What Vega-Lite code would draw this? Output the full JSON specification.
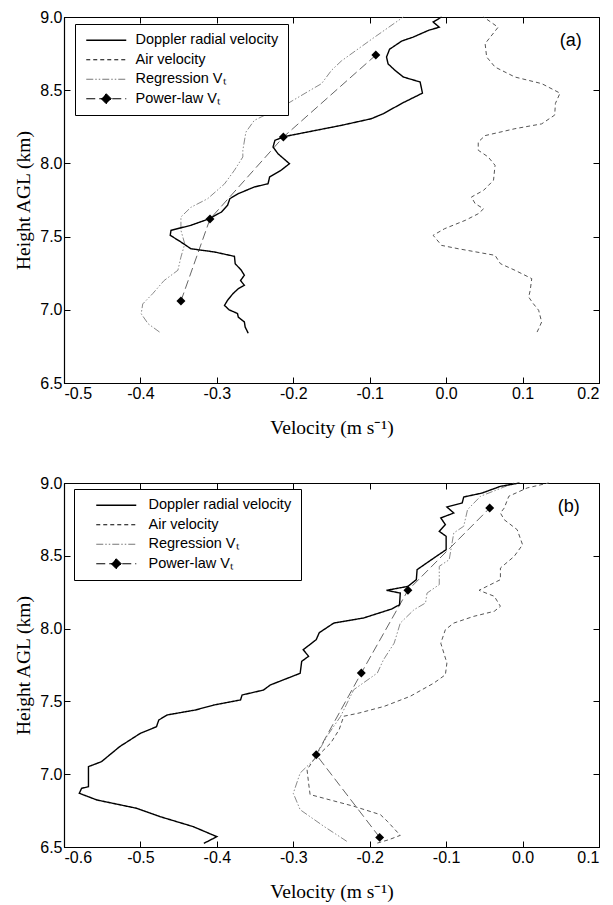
{
  "$schema": "https://vega.github.io/schema/vega-lite/v6.json",
  "background": "white",
  "padding": {"left": 13, "top": 8, "right": 5, "bottom": 5},
  "spacing": 37,
  "config": {
    "view": {"stroke": "black", "strokeWidth": 1},
    "axis": {
      "labelFont": "Liberation Sans", "labelFontSize": 16, "labelColor": "black",
      "titleFont": "Liberation Serif", "titleFontSize": 19.5, "titleFontWeight": "normal", "titleColor": "black",
      "domainColor": "black", "domainWidth": 1.2, "tickColor": "black", "tickSize": -6, "tickWidth": 1,
      "labelPadding": 8, "grid": false
    },
    "axisX": {"titlePadding": 17},
    "axisY": {"titlePadding": 6},
    "legend": {
      "orient": "none", "title": null, "strokeColor": "black", "fillColor": "white",
      "symbolSize": 100, "labelFont": "Liberation Sans", "labelFontSize": 14.5, "labelColor": "black", "rowPadding": 4.5,
      "symbolType": {"expr": "datum.value === 'Power-law Vₜ' ? 'M-4,0L4,0M0,-1L1,0L0,1L-1,0Z' : 'M-4,0L4,0'"},
      "symbolFillColor": {"expr": "datum.value === 'Power-law Vₜ' ? 'black' : 'transparent'"},
      "symbolStrokeColor": {"expr": "datum.value === 'Regression Vₜ' ? '#777777' : 'black'"},
      "symbolStrokeWidth": {"expr": "datum.value === 'Doppler radial velocity' ? 1.5 : 1"}
    }
  },
  "resolve": {
    "scale": {"x": "independent", "y": "independent", "strokeDash": "independent"},
    "legend": {"strokeDash": "independent"}
  },
  "datasets": {
    "a": [
      {"series": "Doppler radial velocity", "velocity": -0.006, "height": 9.0},
      {"series": "Doppler radial velocity", "velocity": -0.017, "height": 8.966},
      {"series": "Doppler radial velocity", "velocity": -0.009, "height": 8.93},
      {"series": "Doppler radial velocity", "velocity": -0.0225, "height": 8.91},
      {"series": "Doppler radial velocity", "velocity": -0.043, "height": 8.863},
      {"series": "Doppler radial velocity", "velocity": -0.058, "height": 8.836},
      {"series": "Doppler radial velocity", "velocity": -0.074, "height": 8.78},
      {"series": "Doppler radial velocity", "velocity": -0.078, "height": 8.727},
      {"series": "Doppler radial velocity", "velocity": -0.076, "height": 8.68},
      {"series": "Doppler radial velocity", "velocity": -0.067, "height": 8.636},
      {"series": "Doppler radial velocity", "velocity": -0.056, "height": 8.59},
      {"series": "Doppler radial velocity", "velocity": -0.034, "height": 8.556},
      {"series": "Doppler radial velocity", "velocity": -0.031, "height": 8.48},
      {"series": "Doppler radial velocity", "velocity": -0.058, "height": 8.41},
      {"series": "Doppler radial velocity", "velocity": -0.082, "height": 8.34},
      {"series": "Doppler radial velocity", "velocity": -0.098, "height": 8.305},
      {"series": "Doppler radial velocity", "velocity": -0.111, "height": 8.29},
      {"series": "Doppler radial velocity", "velocity": -0.137, "height": 8.26},
      {"series": "Doppler radial velocity", "velocity": -0.21, "height": 8.185},
      {"series": "Doppler radial velocity", "velocity": -0.224, "height": 8.158},
      {"series": "Doppler radial velocity", "velocity": -0.2265, "height": 8.112},
      {"series": "Doppler radial velocity", "velocity": -0.22, "height": 8.066},
      {"series": "Doppler radial velocity", "velocity": -0.205, "height": 7.998},
      {"series": "Doppler radial velocity", "velocity": -0.216, "height": 7.953},
      {"series": "Doppler radial velocity", "velocity": -0.231, "height": 7.907},
      {"series": "Doppler radial velocity", "velocity": -0.233, "height": 7.861},
      {"series": "Doppler radial velocity", "velocity": -0.251, "height": 7.839},
      {"series": "Doppler radial velocity", "velocity": -0.272, "height": 7.793},
      {"series": "Doppler radial velocity", "velocity": -0.283, "height": 7.759},
      {"series": "Doppler radial velocity", "velocity": -0.286, "height": 7.714},
      {"series": "Doppler radial velocity", "velocity": -0.294, "height": 7.668},
      {"series": "Doppler radial velocity", "velocity": -0.31, "height": 7.622},
      {"series": "Doppler radial velocity", "velocity": -0.334, "height": 7.577},
      {"series": "Doppler radial velocity", "velocity": -0.36, "height": 7.543},
      {"series": "Doppler radial velocity", "velocity": -0.361, "height": 7.509},
      {"series": "Doppler radial velocity", "velocity": -0.347, "height": 7.463},
      {"series": "Doppler radial velocity", "velocity": -0.334, "height": 7.417},
      {"series": "Doppler radial velocity", "velocity": -0.303, "height": 7.395},
      {"series": "Doppler radial velocity", "velocity": -0.277, "height": 7.365},
      {"series": "Doppler radial velocity", "velocity": -0.276, "height": 7.315},
      {"series": "Doppler radial velocity", "velocity": -0.268, "height": 7.27},
      {"series": "Doppler radial velocity", "velocity": -0.264, "height": 7.236},
      {"series": "Doppler radial velocity", "velocity": -0.269, "height": 7.2},
      {"series": "Doppler radial velocity", "velocity": -0.264, "height": 7.167},
      {"series": "Doppler radial velocity", "velocity": -0.272, "height": 7.144},
      {"series": "Doppler radial velocity", "velocity": -0.279, "height": 7.11},
      {"series": "Doppler radial velocity", "velocity": -0.286, "height": 7.065},
      {"series": "Doppler radial velocity", "velocity": -0.29, "height": 7.03},
      {"series": "Doppler radial velocity", "velocity": -0.284, "height": 7.0},
      {"series": "Doppler radial velocity", "velocity": -0.273, "height": 6.975},
      {"series": "Doppler radial velocity", "velocity": -0.272, "height": 6.95},
      {"series": "Doppler radial velocity", "velocity": -0.264, "height": 6.917},
      {"series": "Doppler radial velocity", "velocity": -0.263, "height": 6.883},
      {"series": "Doppler radial velocity", "velocity": -0.259, "height": 6.84},
      {"series": "Air velocity", "velocity": 0.049, "height": 9.0},
      {"series": "Air velocity", "velocity": 0.068, "height": 8.93},
      {"series": "Air velocity", "velocity": 0.051, "height": 8.818},
      {"series": "Air velocity", "velocity": 0.053, "height": 8.727},
      {"series": "Air velocity", "velocity": 0.064, "height": 8.658},
      {"series": "Air velocity", "velocity": 0.09, "height": 8.59},
      {"series": "Air velocity", "velocity": 0.125, "height": 8.545},
      {"series": "Air velocity", "velocity": 0.149, "height": 8.48},
      {"series": "Air velocity", "velocity": 0.143, "height": 8.41},
      {"series": "Air velocity", "velocity": 0.142, "height": 8.33},
      {"series": "Air velocity", "velocity": 0.125, "height": 8.27},
      {"series": "Air velocity", "velocity": 0.09, "height": 8.237},
      {"series": "Air velocity", "velocity": 0.051, "height": 8.19},
      {"series": "Air velocity", "velocity": 0.042, "height": 8.146},
      {"series": "Air velocity", "velocity": 0.042, "height": 8.09},
      {"series": "Air velocity", "velocity": 0.055, "height": 8.044},
      {"series": "Air velocity", "velocity": 0.064, "height": 7.987},
      {"series": "Air velocity", "velocity": 0.062, "height": 7.885},
      {"series": "Air velocity", "velocity": 0.049, "height": 7.816},
      {"series": "Air velocity", "velocity": 0.033, "height": 7.77},
      {"series": "Air velocity", "velocity": 0.038, "height": 7.725},
      {"series": "Air velocity", "velocity": 0.049, "height": 7.69},
      {"series": "Air velocity", "velocity": 0.042, "height": 7.656},
      {"series": "Air velocity", "velocity": 0.025, "height": 7.611},
      {"series": "Air velocity", "velocity": -0.002, "height": 7.554},
      {"series": "Air velocity", "velocity": -0.017, "height": 7.509},
      {"series": "Air velocity", "velocity": -0.006, "height": 7.44},
      {"series": "Air velocity", "velocity": 0.016, "height": 7.417},
      {"series": "Air velocity", "velocity": 0.064, "height": 7.372},
      {"series": "Air velocity", "velocity": 0.071, "height": 7.315},
      {"series": "Air velocity", "velocity": 0.09, "height": 7.27},
      {"series": "Air velocity", "velocity": 0.112, "height": 7.213},
      {"series": "Air velocity", "velocity": 0.11, "height": 7.133},
      {"series": "Air velocity", "velocity": 0.108, "height": 7.087},
      {"series": "Air velocity", "velocity": 0.114, "height": 7.042},
      {"series": "Air velocity", "velocity": 0.121, "height": 6.997},
      {"series": "Air velocity", "velocity": 0.125, "height": 6.917},
      {"series": "Air velocity", "velocity": 0.121, "height": 6.87},
      {"series": "Air velocity", "velocity": 0.119, "height": 6.848},
      {"series": "Regression Vₜ", "velocity": -0.056, "height": 9.0},
      {"series": "Regression Vₜ", "velocity": -0.097, "height": 8.85},
      {"series": "Regression Vₜ", "velocity": -0.137, "height": 8.7},
      {"series": "Regression Vₜ", "velocity": -0.15, "height": 8.636},
      {"series": "Regression Vₜ", "velocity": -0.163, "height": 8.545},
      {"series": "Regression Vₜ", "velocity": -0.181, "height": 8.49},
      {"series": "Regression Vₜ", "velocity": -0.207, "height": 8.41},
      {"series": "Regression Vₜ", "velocity": -0.233, "height": 8.34},
      {"series": "Regression Vₜ", "velocity": -0.251, "height": 8.294},
      {"series": "Regression Vₜ", "velocity": -0.262, "height": 8.214},
      {"series": "Regression Vₜ", "velocity": -0.266, "height": 8.09},
      {"series": "Regression Vₜ", "velocity": -0.266, "height": 8.044},
      {"series": "Regression Vₜ", "velocity": -0.277, "height": 7.953},
      {"series": "Regression Vₜ", "velocity": -0.29, "height": 7.86},
      {"series": "Regression Vₜ", "velocity": -0.312, "height": 7.759},
      {"series": "Regression Vₜ", "velocity": -0.334, "height": 7.7},
      {"series": "Regression Vₜ", "velocity": -0.347, "height": 7.634},
      {"series": "Regression Vₜ", "velocity": -0.347, "height": 7.543},
      {"series": "Regression Vₜ", "velocity": -0.342, "height": 7.45},
      {"series": "Regression Vₜ", "velocity": -0.347, "height": 7.36},
      {"series": "Regression Vₜ", "velocity": -0.351, "height": 7.27},
      {"series": "Regression Vₜ", "velocity": -0.369, "height": 7.2},
      {"series": "Regression Vₜ", "velocity": -0.384, "height": 7.11},
      {"series": "Regression Vₜ", "velocity": -0.397, "height": 7.04},
      {"series": "Regression Vₜ", "velocity": -0.399, "height": 6.973},
      {"series": "Regression Vₜ", "velocity": -0.39, "height": 6.905},
      {"series": "Regression Vₜ", "velocity": -0.375, "height": 6.848},
      {"series": "Power-law Vₜ", "velocity": -0.347, "height": 7.06},
      {"series": "Power-law Vₜ", "velocity": -0.309, "height": 7.62},
      {"series": "Power-law Vₜ", "velocity": -0.213, "height": 8.18},
      {"series": "Power-law Vₜ", "velocity": -0.092, "height": 8.74}
    ],
    "b": [
      {"series": "Doppler radial velocity", "velocity": -0.004, "height": 9.0},
      {"series": "Doppler radial velocity", "velocity": -0.029, "height": 8.977},
      {"series": "Doppler radial velocity", "velocity": -0.053, "height": 8.931},
      {"series": "Doppler radial velocity", "velocity": -0.077, "height": 8.904},
      {"series": "Doppler radial velocity", "velocity": -0.079, "height": 8.863},
      {"series": "Doppler radial velocity", "velocity": -0.099, "height": 8.835},
      {"series": "Doppler radial velocity", "velocity": -0.09, "height": 8.794},
      {"series": "Doppler radial velocity", "velocity": -0.107, "height": 8.76},
      {"series": "Doppler radial velocity", "velocity": -0.101, "height": 8.714},
      {"series": "Doppler radial velocity", "velocity": -0.109, "height": 8.668},
      {"series": "Doppler radial velocity", "velocity": -0.1, "height": 8.634},
      {"series": "Doppler radial velocity", "velocity": -0.1, "height": 8.542},
      {"series": "Doppler radial velocity", "velocity": -0.116, "height": 8.485},
      {"series": "Doppler radial velocity", "velocity": -0.138, "height": 8.405},
      {"series": "Doppler radial velocity", "velocity": -0.139, "height": 8.336},
      {"series": "Doppler radial velocity", "velocity": -0.15, "height": 8.29},
      {"series": "Doppler radial velocity", "velocity": -0.178, "height": 8.263},
      {"series": "Doppler radial velocity", "velocity": -0.16, "height": 8.244},
      {"series": "Doppler radial velocity", "velocity": -0.161, "height": 8.164},
      {"series": "Doppler radial velocity", "velocity": -0.171, "height": 8.135},
      {"series": "Doppler radial velocity", "velocity": -0.208, "height": 8.073},
      {"series": "Doppler radial velocity", "velocity": -0.247, "height": 8.038},
      {"series": "Doppler radial velocity", "velocity": -0.266, "height": 7.972},
      {"series": "Doppler radial velocity", "velocity": -0.27, "height": 7.924},
      {"series": "Doppler radial velocity", "velocity": -0.287, "height": 7.855},
      {"series": "Doppler radial velocity", "velocity": -0.28, "height": 7.81},
      {"series": "Doppler radial velocity", "velocity": -0.289, "height": 7.775},
      {"series": "Doppler radial velocity", "velocity": -0.291, "height": 7.693},
      {"series": "Doppler radial velocity", "velocity": -0.33, "height": 7.613},
      {"series": "Doppler radial velocity", "velocity": -0.339, "height": 7.578},
      {"series": "Doppler radial velocity", "velocity": -0.367, "height": 7.544},
      {"series": "Doppler radial velocity", "velocity": -0.369, "height": 7.51},
      {"series": "Doppler radial velocity", "velocity": -0.404, "height": 7.475},
      {"series": "Doppler radial velocity", "velocity": -0.428, "height": 7.441},
      {"series": "Doppler radial velocity", "velocity": -0.465, "height": 7.407},
      {"series": "Doppler radial velocity", "velocity": -0.476, "height": 7.372},
      {"series": "Doppler radial velocity", "velocity": -0.479, "height": 7.326},
      {"series": "Doppler radial velocity", "velocity": -0.5, "height": 7.281},
      {"series": "Doppler radial velocity", "velocity": -0.527, "height": 7.19},
      {"series": "Doppler radial velocity", "velocity": -0.551, "height": 7.086},
      {"series": "Doppler radial velocity", "velocity": -0.568, "height": 7.052},
      {"series": "Doppler radial velocity", "velocity": -0.568, "height": 6.914},
      {"series": "Doppler radial velocity", "velocity": -0.577, "height": 6.903},
      {"series": "Doppler radial velocity", "velocity": -0.58, "height": 6.869},
      {"series": "Doppler radial velocity", "velocity": -0.557, "height": 6.823},
      {"series": "Doppler radial velocity", "velocity": -0.505, "height": 6.766},
      {"series": "Doppler radial velocity", "velocity": -0.474, "height": 6.708},
      {"series": "Doppler radial velocity", "velocity": -0.431, "height": 6.64},
      {"series": "Doppler radial velocity", "velocity": -0.4, "height": 6.571},
      {"series": "Doppler radial velocity", "velocity": -0.417, "height": 6.525},
      {"series": "Air velocity", "velocity": 0.034, "height": 9.0},
      {"series": "Air velocity", "velocity": 0.006, "height": 8.966},
      {"series": "Air velocity", "velocity": -0.018, "height": 8.909},
      {"series": "Air velocity", "velocity": -0.024, "height": 8.828},
      {"series": "Air velocity", "velocity": -0.029, "height": 8.794},
      {"series": "Air velocity", "velocity": -0.024, "height": 8.748},
      {"series": "Air velocity", "velocity": -0.007, "height": 8.679},
      {"series": "Air velocity", "velocity": 0.0, "height": 8.576},
      {"series": "Air velocity", "velocity": -0.011, "height": 8.496},
      {"series": "Air velocity", "velocity": -0.029, "height": 8.416},
      {"series": "Air velocity", "velocity": -0.029, "height": 8.336},
      {"series": "Air velocity", "velocity": -0.057, "height": 8.263},
      {"series": "Air velocity", "velocity": -0.037, "height": 8.222},
      {"series": "Air velocity", "velocity": -0.029, "height": 8.153},
      {"series": "Air velocity", "velocity": -0.037, "height": 8.119},
      {"series": "Air velocity", "velocity": -0.064, "height": 8.084},
      {"series": "Air velocity", "velocity": -0.09, "height": 8.038},
      {"series": "Air velocity", "velocity": -0.101, "height": 7.993},
      {"series": "Air velocity", "velocity": -0.107, "height": 7.9},
      {"series": "Air velocity", "velocity": -0.103, "height": 7.832},
      {"series": "Air velocity", "velocity": -0.099, "height": 7.764},
      {"series": "Air velocity", "velocity": -0.101, "height": 7.683},
      {"series": "Air velocity", "velocity": -0.116, "height": 7.626},
      {"series": "Air velocity", "velocity": -0.147, "height": 7.535},
      {"series": "Air velocity", "velocity": -0.181, "height": 7.466},
      {"series": "Air velocity", "velocity": -0.214, "height": 7.42},
      {"series": "Air velocity", "velocity": -0.234, "height": 7.398},
      {"series": "Air velocity", "velocity": -0.24, "height": 7.306},
      {"series": "Air velocity", "velocity": -0.251, "height": 7.214},
      {"series": "Air velocity", "velocity": -0.273, "height": 7.1},
      {"series": "Air velocity", "velocity": -0.282, "height": 7.031},
      {"series": "Air velocity", "velocity": -0.28, "height": 6.94},
      {"series": "Air velocity", "velocity": -0.278, "height": 6.86},
      {"series": "Air velocity", "velocity": -0.221, "height": 6.78},
      {"series": "Air velocity", "velocity": -0.186, "height": 6.722},
      {"series": "Air velocity", "velocity": -0.177, "height": 6.677},
      {"series": "Air velocity", "velocity": -0.16, "height": 6.58},
      {"series": "Air velocity", "velocity": -0.175, "height": 6.55},
      {"series": "Air velocity", "velocity": -0.19, "height": 6.527},
      {"series": "Regression Vₜ", "velocity": -0.011, "height": 9.0},
      {"series": "Regression Vₜ", "velocity": -0.055, "height": 8.909},
      {"series": "Regression Vₜ", "velocity": -0.072, "height": 8.817},
      {"series": "Regression Vₜ", "velocity": -0.077, "height": 8.703},
      {"series": "Regression Vₜ", "velocity": -0.09, "height": 8.657},
      {"series": "Regression Vₜ", "velocity": -0.096, "height": 8.473},
      {"series": "Regression Vₜ", "velocity": -0.109, "height": 8.428},
      {"series": "Regression Vₜ", "velocity": -0.109, "height": 8.302},
      {"series": "Regression Vₜ", "velocity": -0.125, "height": 8.244},
      {"series": "Regression Vₜ", "velocity": -0.127, "height": 8.176},
      {"series": "Regression Vₜ", "velocity": -0.142, "height": 8.13},
      {"series": "Regression Vₜ", "velocity": -0.16, "height": 8.038},
      {"series": "Regression Vₜ", "velocity": -0.168, "height": 7.9},
      {"series": "Regression Vₜ", "velocity": -0.182, "height": 7.786},
      {"series": "Regression Vₜ", "velocity": -0.19, "height": 7.695},
      {"series": "Regression Vₜ", "velocity": -0.221, "height": 7.58},
      {"series": "Regression Vₜ", "velocity": -0.238, "height": 7.398},
      {"series": "Regression Vₜ", "velocity": -0.256, "height": 7.26},
      {"series": "Regression Vₜ", "velocity": -0.273, "height": 7.1},
      {"series": "Regression Vₜ", "velocity": -0.291, "height": 7.008},
      {"series": "Regression Vₜ", "velocity": -0.3, "height": 6.869},
      {"series": "Regression Vₜ", "velocity": -0.291, "height": 6.756},
      {"series": "Regression Vₜ", "velocity": -0.26, "height": 6.642},
      {"series": "Regression Vₜ", "velocity": -0.23, "height": 6.539},
      {"series": "Power-law Vₜ", "velocity": -0.043, "height": 8.828},
      {"series": "Power-law Vₜ", "velocity": -0.15, "height": 8.263},
      {"series": "Power-law Vₜ", "velocity": -0.211, "height": 7.695},
      {"series": "Power-law Vₜ", "velocity": -0.27, "height": 7.134},
      {"series": "Power-law Vₜ", "velocity": -0.187, "height": 6.566}
    ]
  },
  "vconcat": [
    {
      "width": 535, "height": 366,
      "data": {"name": "a"},
      "resolve": {"axis": {"x": "independent", "y": "independent"}},
      "layer": [
        {
          "transform": [{"filter": "datum.series === 'Air velocity'"}],
          "mark": {"type": "line", "strokeWidth": 1, "color": "#555555"},
          "encoding": {
            "x": {"field": "velocity", "type": "quantitative", "scale": {"domain": [-0.5, 0.2], "nice": false, "zero": false},
                  "axis": {"orient": "bottom", "values": [-0.5, -0.4, -0.3, -0.2, -0.1, 0, 0.1, 0.2], "format": ".1f", "labelExpr": "replace(datum.label, '\u2212', '-')", "title": "Velocity (m s⁻¹)"}},
            "y": {"field": "height", "type": "quantitative", "scale": {"domain": [6.5, 9.0], "nice": false, "zero": false},
                  "axis": {"orient": "left", "values": [6.5, 7.0, 7.5, 8.0, 8.5, 9.0], "format": ".1f", "title": "Height AGL (km)"}},
            "strokeDash": {"field": "series", "type": "nominal",
                           "scale": {"domain": ["Doppler radial velocity", "Air velocity", "Regression Vₜ", "Power-law Vₜ"], "range": [[1, 0], [4, 3], [7, 2, 1.5, 2, 1.5, 2], [9, 4]]},
                           "legend": {
                             "orient": "none", "legendX": 11, "legendY": 7, "title": null,
                             "padding": 9, "labelOffset": 22, "symbolOffset": 15
                           }},
            "order": {"field": "height", "type": "quantitative"}
          }
        },
        {
          "transform": [{"filter": "datum.series === 'Regression Vₜ'"}],
          "mark": {"type": "line", "strokeWidth": 1, "color": "#8a8a8a"},
          "encoding": {
            "x": {"field": "velocity", "type": "quantitative", "axis": null},
            "y": {"field": "height", "type": "quantitative", "axis": null},
            "strokeDash": {"field": "series", "type": "nominal"},
            "order": {"field": "height", "type": "quantitative"}
          }
        },
        {
          "transform": [{"filter": "datum.series === 'Power-law Vₜ'"}],
          "mark": {"type": "line", "strokeWidth": 1, "color": "#666666"},
          "encoding": {
            "x": {"field": "velocity", "type": "quantitative", "axis": null},
            "y": {"field": "height", "type": "quantitative", "axis": null},
            "strokeDash": {"field": "series", "type": "nominal"},
            "order": {"field": "height", "type": "quantitative"}
          }
        },
        {
          "transform": [{"filter": "datum.series === 'Doppler radial velocity'"}],
          "mark": {"type": "line", "strokeWidth": 1.4, "color": "black"},
          "encoding": {
            "x": {"field": "velocity", "type": "quantitative", "axis": null},
            "y": {"field": "height", "type": "quantitative", "axis": null},
            "strokeDash": {"field": "series", "type": "nominal"},
            "order": {"field": "height", "type": "quantitative"}
          }
        },
        {
          "transform": [{"filter": "datum.series === 'Power-law Vₜ'"}],
          "mark": {"type": "point", "shape": "diamond", "filled": true, "color": "black", "size": 80, "opacity": 1},
          "encoding": {
            "x": {"field": "velocity", "type": "quantitative",
                  "axis": {"orient": "top", "values": [-0.5, -0.4, -0.3, -0.2, -0.1, 0, 0.1, 0.2], "labels": false, "title": null, "domain": false}},
            "y": {"field": "height", "type": "quantitative",
                  "axis": {"orient": "right", "values": [6.5, 7.0, 7.5, 8.0, 8.5, 9.0], "labels": false, "title": null, "domain": false}}
          }
        },
        {
          "data": {"values": [{"label": "(a)"}]},
          "mark": {"type": "text", "font": "Liberation Sans", "fontSize": 18, "color": "black", "align": "center", "baseline": "middle"},
          "encoding": {
            "x": {"datum": 0.163, "type": "quantitative", "axis": null},
            "y": {"datum": 8.836, "type": "quantitative", "axis": null},
            "text": {"field": "label"}
          }
        }
      ]
    },
    {
      "width": 535, "height": 364,
      "data": {"name": "b"},
      "resolve": {"axis": {"x": "independent", "y": "independent"}},
      "layer": [
        {
          "transform": [{"filter": "datum.series === 'Air velocity'"}],
          "mark": {"type": "line", "strokeWidth": 1, "color": "#555555"},
          "encoding": {
            "x": {"field": "velocity", "type": "quantitative", "scale": {"domain": [-0.6, 0.1], "nice": false, "zero": false},
                  "axis": {"orient": "bottom", "values": [-0.6, -0.5, -0.4, -0.3, -0.2, -0.1, 0, 0.1], "format": ".1f", "labelExpr": "replace(datum.label, '\u2212', '-')", "title": "Velocity (m s⁻¹)"}},
            "y": {"field": "height", "type": "quantitative", "scale": {"domain": [6.5, 9.0], "nice": false, "zero": false},
                  "axis": {"orient": "left", "values": [6.5, 7.0, 7.5, 8.0, 8.5, 9.0], "format": ".1f", "title": "Height AGL (km)"}},
            "strokeDash": {"field": "series", "type": "nominal",
                           "scale": {"domain": ["Doppler radial velocity", "Air velocity", "Regression Vₜ", "Power-law Vₜ"], "range": [[1, 0], [4, 3], [7, 2, 1.5, 2, 1.5, 2], [9, 4]]},
                           "legend": {
                             "orient": "none", "legendX": 10, "legendY": 6, "title": null,
                             "padding": 9, "labelOffset": 25, "symbolOffset": 26
                           }},
            "order": {"field": "height", "type": "quantitative"}
          }
        },
        {
          "transform": [{"filter": "datum.series === 'Regression Vₜ'"}],
          "mark": {"type": "line", "strokeWidth": 1, "color": "#8a8a8a"},
          "encoding": {
            "x": {"field": "velocity", "type": "quantitative", "axis": null},
            "y": {"field": "height", "type": "quantitative", "axis": null},
            "strokeDash": {"field": "series", "type": "nominal"},
            "order": {"field": "height", "type": "quantitative"}
          }
        },
        {
          "transform": [{"filter": "datum.series === 'Power-law Vₜ'"}],
          "mark": {"type": "line", "strokeWidth": 1, "color": "#666666"},
          "encoding": {
            "x": {"field": "velocity", "type": "quantitative", "axis": null},
            "y": {"field": "height", "type": "quantitative", "axis": null},
            "strokeDash": {"field": "series", "type": "nominal"},
            "order": {"field": "height", "type": "quantitative"}
          }
        },
        {
          "transform": [{"filter": "datum.series === 'Doppler radial velocity'"}],
          "mark": {"type": "line", "strokeWidth": 1.4, "color": "black"},
          "encoding": {
            "x": {"field": "velocity", "type": "quantitative", "axis": null},
            "y": {"field": "height", "type": "quantitative", "axis": null},
            "strokeDash": {"field": "series", "type": "nominal"},
            "order": {"field": "height", "type": "quantitative"}
          }
        },
        {
          "transform": [{"filter": "datum.series === 'Power-law Vₜ'"}],
          "mark": {"type": "point", "shape": "diamond", "filled": true, "color": "black", "size": 80, "opacity": 1},
          "encoding": {
            "x": {"field": "velocity", "type": "quantitative",
                  "axis": {"orient": "top", "values": [-0.6, -0.5, -0.4, -0.3, -0.2, -0.1, 0, 0.1], "labels": false, "title": null, "domain": false}},
            "y": {"field": "height", "type": "quantitative",
                  "axis": {"orient": "right", "values": [6.5, 7.0, 7.5, 8.0, 8.5, 9.0], "labels": false, "title": null, "domain": false}}
          }
        },
        {
          "data": {"values": [{"label": "(b)"}]},
          "mark": {"type": "text", "font": "Liberation Sans", "fontSize": 18, "color": "black", "align": "center", "baseline": "middle"},
          "encoding": {
            "x": {"datum": 0.0605, "type": "quantitative", "axis": null},
            "y": {"datum": 8.835, "type": "quantitative", "axis": null},
            "text": {"field": "label"}
          }
        }
      ]
    }
  ]
}
